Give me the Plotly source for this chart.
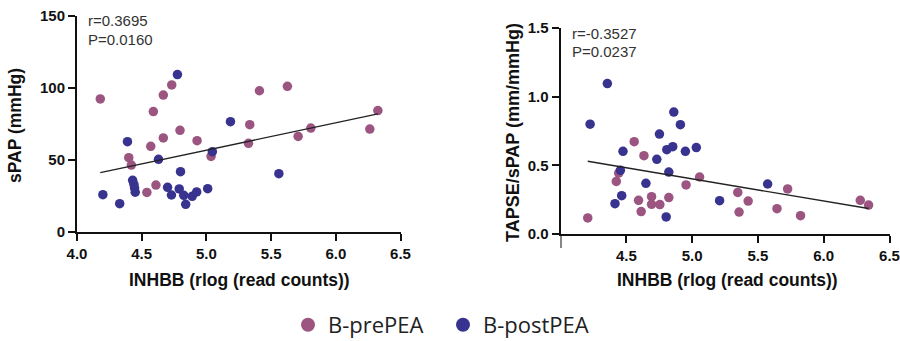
import numpy as np
import plotly.graph_objects as go

# INHBB expression (rlog read counts) vs sPAP, by sampling group
spap_pre_x = [4.18, 4.59, 4.667, 4.732, 4.796, 4.667, 4.57, 4.40, 4.42, 4.61, 4.54,
              4.928, 5.036, 5.41, 5.626, 5.335, 5.325, 5.709, 5.807, 6.263, 6.325]
spap_pre_y = [92.4, 83.6, 95.1, 102.1, 70.6, 65.3, 59.5, 51.6, 46.5, 32.6, 27.5,
              63.4, 52.5, 98.1, 101.2, 74.5, 61.6, 66.4, 72.2, 71.5, 84.3]
spap_post_x = [4.776, 5.186, 4.39, 4.63, 5.046, 4.80, 5.56, 4.20, 4.33, 4.43, 4.44,
               4.445, 4.45, 4.70, 4.73, 4.79, 4.825, 4.84, 4.89, 4.925, 5.01]
spap_post_y = [109.3, 76.6, 62.7, 50.5, 55.8, 41.9, 40.5, 25.9, 19.7, 35.9, 33.0,
               30.5, 27.6, 31.0, 25.7, 29.9, 25.5, 19.2, 24.8, 27.8, 30.1]

# INHBB expression vs TAPSE/sPAP ratio
ratio_pre_x = [4.207, 4.56, 4.634, 4.424, 4.442, 4.593, 4.613, 4.692, 4.692, 4.755, 4.823,
               4.954, 5.057, 5.347, 5.357, 5.426, 5.645, 5.726, 5.824, 6.278, 6.341]
ratio_pre_y = [0.117, 0.672, 0.570, 0.383, 0.444, 0.245, 0.163, 0.272, 0.216, 0.214, 0.265,
               0.357, 0.415, 0.303, 0.160, 0.240, 0.184, 0.328, 0.133, 0.245, 0.211]
ratio_post_x = [4.356, 4.225, 4.475, 4.455, 4.465, 4.414, 4.649, 4.732, 4.752, 4.861,
                4.911, 4.808, 4.853, 4.949, 5.032, 4.823, 4.803, 5.209, 5.574]
ratio_post_y = [1.095, 0.80, 0.602, 0.464, 0.279, 0.221, 0.369, 0.544, 0.728, 0.888,
                0.796, 0.614, 0.636, 0.602, 0.629, 0.451, 0.124, 0.243, 0.364]

x_ticks = [4.0, 4.5, 5.0, 5.5, 6.0, 6.5]
spap_ticks = [0, 50, 100, 150]
ratio_ticks = [0.0, 0.5, 1.0, 1.5]

PRE_COLOR = "#9b5580"
POST_COLOR = "#38338f"
W, H = 900, 341


def fit_line(xs, ys):
    xs = np.asarray(xs)
    ys = np.asarray(ys)
    slope, icpt = np.polyfit(xs, ys, 1)
    lx = np.array([xs.min(), xs.max()])
    return lx, slope * lx + icpt


fig = go.Figure()

for xs, ys, col, ax in [
    (spap_pre_x, spap_pre_y, PRE_COLOR, ("x", "y")),
    (spap_post_x, spap_post_y, POST_COLOR, ("x", "y")),
    (ratio_pre_x, ratio_pre_y, PRE_COLOR, ("x2", "y2")),
    (ratio_post_x, ratio_post_y, POST_COLOR, ("x2", "y2")),
]:
    fig.add_trace(go.Scatter(x=xs, y=ys, mode="markers", xaxis=ax[0], yaxis=ax[1],
                             marker=dict(color=col, size=9.5, line=dict(width=0)),
                             showlegend=False, hoverinfo="skip"))

lx, ly = fit_line(spap_pre_x + spap_post_x, spap_pre_y + spap_post_y)
fig.add_trace(go.Scatter(x=lx, y=ly, mode="lines", line=dict(color="#222", width=1.4),
                         xaxis="x", yaxis="y", showlegend=False))
lx2, ly2 = fit_line(ratio_pre_x + ratio_post_x, ratio_pre_y + ratio_post_y)
fig.add_trace(go.Scatter(x=lx2, y=ly2, mode="lines", line=dict(color="#222", width=1.4),
                         xaxis="x2", yaxis="y2", showlegend=False))

# legend entries
for name, col in [("B-prePEA", PRE_COLOR), ("B-postPEA", POST_COLOR)]:
    fig.add_trace(go.Scatter(x=[None], y=[None], mode="markers", name=name,
                             marker=dict(color=col, size=14)))

tick_font = dict(family="Liberation Sans", size=15, color="#111", weight="bold")
axis_common = dict(showline=True, linecolor="#111", linewidth=2, ticks="outside",
                   ticklen=7, tickwidth=2, tickcolor="#111", showgrid=False,
                   zeroline=False, tickfont=tick_font, fixedrange=True,
                   automargin=False)


def px_x(p):
    return p / W


def px_y(p):
    return (H - p) / H


fig.update_layout(
    template="none",
    width=W, height=H,
    margin=dict(l=0, r=0, t=0, b=0, autoexpand=False),
    paper_bgcolor="white", plot_bgcolor="white",
    xaxis=dict(domain=[px_x(77), px_x(400.5)], range=[4.0, 6.5], anchor="y",
               tickvals=x_ticks, ticktext=[f"{v:.1f}" for v in x_ticks], **axis_common),
    yaxis=dict(domain=[px_y(232), px_y(16)], range=[0, 150], anchor="x",
               tickvals=spap_ticks, **axis_common),
    xaxis2=dict(domain=[px_x(560.5), px_x(889.5)], range=[4.0, 6.5], anchor="y2",
                tickvals=x_ticks[1:], ticktext=[f"{v:.1f}" for v in x_ticks[1:]], **axis_common),
    yaxis2=dict(domain=[px_y(234), px_y(28)], range=[0, 1.5], anchor="x2",
                tickvals=ratio_ticks, ticktext=[f"{v:.1f}" for v in ratio_ticks], **axis_common),
    legend=dict(orientation="h", x=px_x(288), xanchor="left", y=px_y(325), yanchor="middle",
                font=dict(family="Open Sans", size=22, color="#222"),
                itemwidth=30, tracegroupgap=0, entrywidth=110, entrywidthmode="pixels",
                bgcolor="rgba(0,0,0,0)", borderwidth=0),
    showlegend=True,
)

title_font = dict(family="Liberation Sans", size=17.5, color="#111", weight="bold")
stat_font = dict(family="Liberation Sans", size=15, color="#333")
anns = [
    dict(text="sPAP (mmHg)", x=px_x(15), y=px_y(126), textangle=-90, font=title_font),
    dict(text="INHBB (rlog (read counts))", x=px_x(239), y=px_y(280), font=title_font),
    dict(text="TAPSE/sPAP (mm/mmHg)", x=px_x(513), y=px_y(133), textangle=-90,
         font=dict(title_font, size=18)),
    dict(text="INHBB (rlog (read counts))", x=px_x(727), y=px_y(280), font=title_font),
    dict(text="r=0.3695", x=px_x(86), y=px_y(21), xanchor="left", font=stat_font),
    dict(text="P=0.0160", x=px_x(86), y=px_y(39), xanchor="left", font=stat_font),
    dict(text="r=-0.3527", x=px_x(570), y=px_y(33), xanchor="left", font=stat_font),
    dict(text="P=0.0237", x=px_x(570), y=px_y(52), xanchor="left", font=stat_font),
]
for a in anns:
    a.update(xref="paper", yref="paper", showarrow=False)
    a.setdefault("xanchor", "center")
    a.setdefault("yanchor", "middle")
fig.update_layout(annotations=anns)

# right panel: y-axis line continues below the x-axis
fig.add_shape(type="line", xref="x2", yref="paper", x0=4.0, x1=4.0,
              y0=px_y(234), y1=px_y(248), line=dict(color="#111", width=2))

fig.write_html("out.html")
